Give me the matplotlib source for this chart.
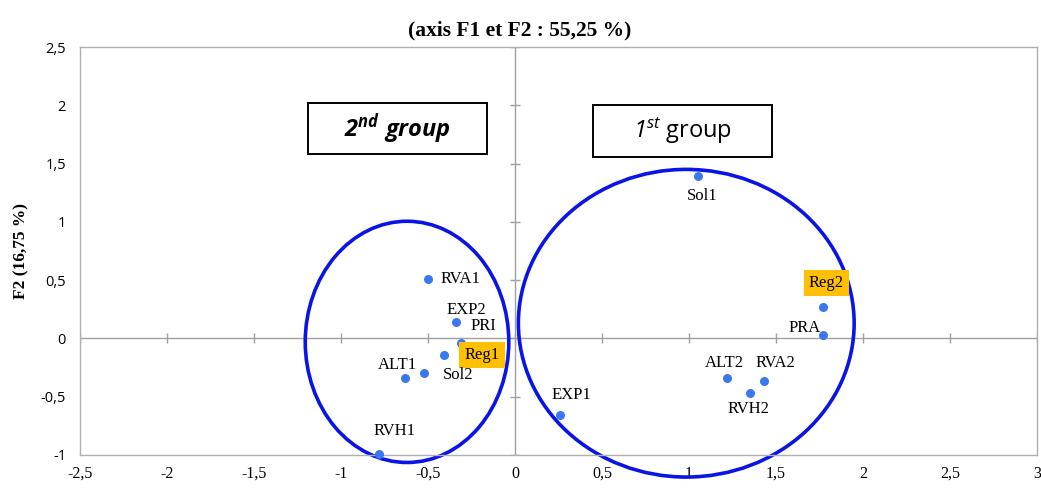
import matplotlib.pyplot as plt
from matplotlib.patches import Ellipse, Rectangle

plt.rcParams['mathtext.fontset'] = 'custom'
plt.rcParams['mathtext.it'] = 'Open Sans:italic'
plt.rcParams['mathtext.sf'] = 'Open Sans:italic'
plt.rcParams['mathtext.bf'] = 'Open Sans:bold:italic'
plt.rcParams['mathtext.rm'] = 'Open Sans'

# coordonnees des individus (F1, F2)
labels = ['RVA1', 'EXP2', 'PRI', 'Reg1', 'ALT1', 'Sol2', 'RVH1',
          'Sol1', 'Reg2', 'PRA', 'ALT2', 'RVA2', 'RVH2', 'EXP1']
f1 = [-0.50, -0.34, -0.31, -0.41, -0.63, -0.52, -0.78,
      1.05, 1.77, 1.77, 1.22, 1.43, 1.35, 0.26]
f2 = [0.51, 0.14, -0.04, -0.14, -0.34, -0.30, -0.99,
      1.39, 0.27, 0.03, -0.34, -0.37, -0.47, -0.66]
highlight = ['Reg1', 'Reg2']

xticks = [-2.5, -2, -1.5, -1, -0.5, 0, 0.5, 1, 1.5, 2, 2.5, 3]
yticks = [-1, -0.5, 0, 0.5, 1, 1.5, 2, 2.5]

# position des etiquettes (decalage en points, bord gauche du texte)
offsets = {
    'RVA1': (9, 0), 'EXP2': (-7, 9), 'PRI': (7, 12), 'Reg1': (15, 0),
    'ALT1': (-19.5, 9), 'Sol2': (13, -1.5), 'RVH1': (-4, 16.5),
    'Sol1': (-8, -14.4), 'Reg2': (-10, 17), 'PRA': (-24.5, 5),
    'ALT2': (-16, 11), 'RVA2': (-6, 13), 'RVH2': (-16, -11.5), 'EXP1': (-6.5, 14.4),
}

fig = plt.figure(figsize=(10.41, 4.95), dpi=100)
ax = fig.add_axes([0.0768, 0.081, 0.9192, 0.824])
ax.set_xlim(-2.5, 3)
ax.set_ylim(-1, 2.5)

for s in ax.spines.values():
    s.set_color('#b0b0b0')
    s.set_linewidth(1)

# axes centraux avec graduations
ax.axhline(0, color='#a0a0a0', lw=1, zorder=1)
ax.axvline(0, color='#a0a0a0', lw=1, zorder=1)
ax.plot(xticks, [0] * len(xticks), ls='none', marker='|', ms=7, color='#a0a0a0', zorder=1)
ax.plot([0] * len(yticks), yticks, ls='none', marker='_', ms=7, color='#a0a0a0', zorder=1)

ax.set_xticks(xticks)
ax.set_yticks(yticks)
ax.set_xticklabels([str(t).replace('.', ',') for t in xticks],
                   fontfamily='Liberation Serif', fontsize=11.5)
ax.set_yticklabels([str(t).replace('.', ',') for t in yticks],
                   fontfamily='Open Sans', fontsize=10.5)
ax.tick_params(axis='x', length=0, pad=8)
ax.tick_params(axis='y', length=0, pad=10)

ax.set_title('(axis F1 et F2 : 55,25 %)', fontfamily='Liberation Serif',
             fontweight='bold', fontsize=15.5, pad=8, x=0.46)
ax.set_ylabel('F2 (16,75 %)', fontfamily='Liberation Serif', fontweight='bold',
              fontsize=12.5, labelpad=8)

ax.scatter(f1, f2, s=30, color='#3a78f0', zorder=3, clip_on=False)

for lab, x, y in zip(labels, f1, f2):
    dx, dy = offsets[lab]
    bbox = None
    if lab in highlight:
        bbox = dict(boxstyle='square,pad=0.3', fc='#ffc000', ec='none')
    ax.annotate(lab, (x, y), xytext=(dx, dy), textcoords='offset points',
                ha='left', va='center', fontsize=12, fontfamily='Liberation Serif',
                bbox=bbox, zorder=4)

# ellipses des groupes
ax.add_patch(Ellipse((-0.62, -0.03), 1.17, 2.07, fill=False, ec='#0a14e6',
                     lw=2.6, clip_on=False, zorder=2))
ax.add_patch(Ellipse((0.985, 0.13), 1.93, 2.64, fill=False, ec='#0a14e6',
                     lw=2.6, clip_on=False, zorder=2))

# boites de groupe
ax.add_patch(Rectangle((-1.19, 1.58), 1.03, 0.44, fc='white', ec='black', lw=1.4, zorder=3))
ax.add_patch(Rectangle((0.45, 1.56), 1.03, 0.44, fc='white', ec='black', lw=1.4, zorder=3))
ax.text(-0.675, 1.80, r'$\mathbf{2^{nd}\ group}$', ha='center', va='center',
        fontsize=17, zorder=4)
ax.text(0.965, 1.78, r'$\mathsf{1^{st}}$' + ' group', ha='center', va='center',
        fontsize=17, fontfamily='Open Sans', zorder=4)

fig.savefig('out.png', dpi=100)
